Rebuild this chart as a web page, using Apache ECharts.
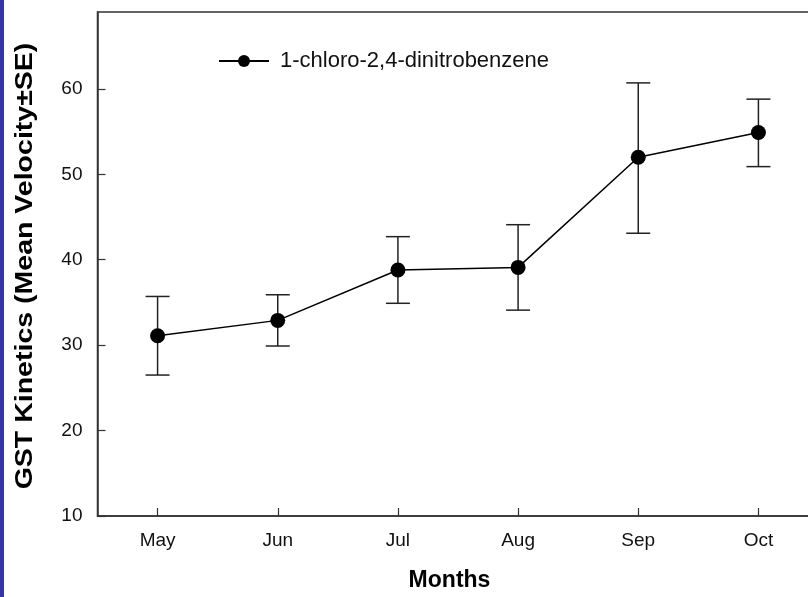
<!DOCTYPE html>
<html>
<head>
<meta charset="utf-8">
<script src="https://cdn.jsdelivr.net/npm/echarts@6/dist/echarts.min.js"></script>
<style>
  html, body { margin: 0; padding: 0; background: #ffffff; overflow: hidden; }
  /* plot box runs past the right edge of the window */
  #chart { width: 830px; height: 597px; }
</style>
</head>
<body>
<div id="chart"></div>
<script>
// Monthly GST kinetics with CDNB substrate
const months = ['May', 'Jun', 'Jul', 'Aug', 'Sep', 'Oct'];
const meanVelocity = [31.1, 32.9, 38.8, 39.1, 52.0, 54.9];
const errUpper = [35.7, 35.9, 42.7, 44.1, 60.7, 58.8];
const errLower = [26.5, 29.9, 34.9, 34.1, 43.1, 50.9];
const seriesName = '1-chloro-2,4-dinitrobenzene';
const yTitle = 'GST Kinetics (Mean Velocity±SE)';

const chart = echarts.init(document.getElementById('chart'), null, { renderer: 'canvas' });

const axisColor = '#333333';
const fontFamily = 'Liberation Sans, Arial, sans-serif';

chart.setOption({
  animation: false,
  backgroundColor: '#ffffff',
  graphic: [
    { type: 'rect', left: 0, top: 0, shape: { width: 4, height: 597 }, style: { fill: '#3535a8' } },
    {
      type: 'text',
      x: 26, y: 266,
      rotation: Math.PI / 2,
      scaleX: 1.24,
      style: {
        text: yTitle, fontFamily, fontSize: 23, fontWeight: 'bold', fill: '#000',
        align: 'center', verticalAlign: 'middle'
      }
    }
  ],
  grid: {
    left: 97.5, top: 12, bottom: 80, width: 721,
    show: true, borderColor: axisColor, borderWidth: 1.5, backgroundColor: 'transparent'
  },
  legend: {
    left: 213, top: 45,
    itemWidth: 50, itemHeight: 15, itemGap: 10,
    textStyle: { fontFamily, fontSize: 22, color: '#111', padding: [0, 0, 0, 6] },
    data: [seriesName]
  },
  xAxis: {
    type: 'category',
    data: months,
    boundaryGap: true,
    name: 'Months',
    nameLocation: 'middle',
    nameGap: 53,
    nameTextStyle: { fontFamily, fontSize: 23, fontWeight: 'bold', color: '#000', padding: [0, 0, 0, -17] },
    axisLine: { lineStyle: { color: axisColor, width: 1.5 } },
    axisTick: { show: true, inside: true, length: 8, alignWithLabel: true, lineStyle: { color: axisColor, width: 1.2 } },
    axisLabel: { fontFamily, fontSize: 19, color: '#111', margin: 15 },
    splitLine: { show: false }
  },
  yAxis: {
    type: 'value',
    min: 10, max: 69, interval: 10,
    axisLine: { show: true, lineStyle: { color: axisColor, width: 1.5 } },
    axisTick: { show: true, inside: true, length: 8, lineStyle: { color: axisColor, width: 1.2 } },
    axisLabel: { fontFamily, fontSize: 19, color: '#111', margin: 15, showMaxLabel: false },
    splitLine: { show: false }
  },
  series: [
    {
      name: seriesName,
      type: 'line',
      data: meanVelocity,
      symbol: 'circle',
      symbolSize: 15,
      itemStyle: { color: '#000' },
      lineStyle: { color: '#000', width: 1.5 },
      z: 3
    },
    {
      name: 'error',
      type: 'custom',
      data: months.map((m, i) => [i, errLower[i], errUpper[i]]),
      renderItem: function (params, api) {
        const x = api.value(0);
        const lo = api.coord([x, api.value(1)]);
        const hi = api.coord([x, api.value(2)]);
        const cap = 12;
        const style = { stroke: '#222', lineWidth: 1.5, fill: null };
        return {
          type: 'group',
          children: [
            { type: 'line', shape: { x1: hi[0], y1: hi[1], x2: lo[0], y2: lo[1] }, style },
            { type: 'line', shape: { x1: hi[0] - cap, y1: hi[1], x2: hi[0] + cap, y2: hi[1] }, style },
            { type: 'line', shape: { x1: lo[0] - cap, y1: lo[1], x2: lo[0] + cap, y2: lo[1] }, style }
          ]
        };
      },
      z: 2
    }
  ]
});
</script>
</body>
</html>
